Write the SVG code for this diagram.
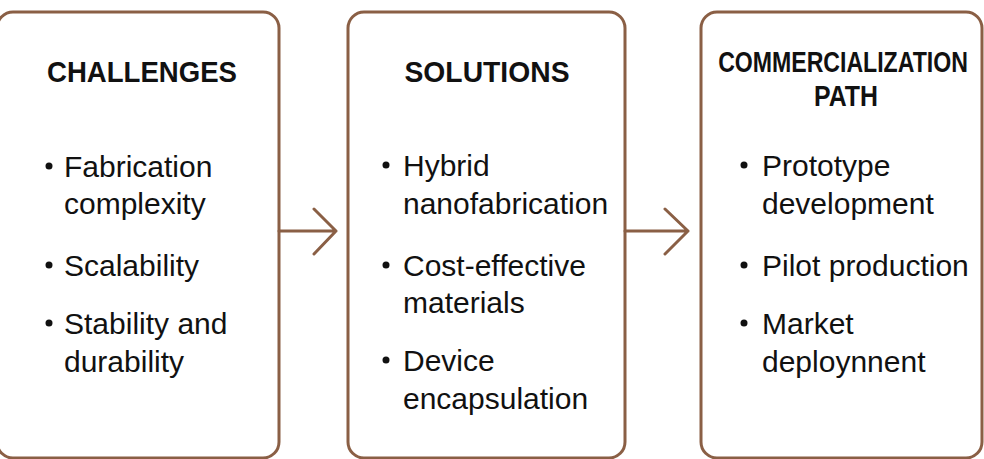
<svg xmlns="http://www.w3.org/2000/svg" width="984" height="459" viewBox="0 0 984 459">
<style>
.box{fill:#fff;stroke:#8a5f45;stroke-width:3}
.conn{fill:none;stroke:#8a5f45;stroke-width:3;stroke-linecap:round;stroke-linejoin:round}
.title{font-family:"Liberation Sans",Arial,sans-serif;font-weight:bold;font-size:30px;fill:#111;text-anchor:middle}
.item{font-family:"Liberation Sans",Arial,sans-serif;font-size:30px;fill:#111}
.bullet{fill:#111}
</style>
<rect width="984" height="459" fill="#fff"/>
<g id="challenges">
<rect class="box" x="-3" y="12" width="282" height="446" rx="16"/>
<text class="title" x="142" y="82" textLength="190" lengthAdjust="spacingAndGlyphs">CHALLENGES</text>
<circle class="bullet" cx="49" cy="166" r="3.5"/>
<text class="item" x="64" y="177">Fabrication</text>
<text class="item" x="64" y="214">complexity</text>
<circle class="bullet" cx="49" cy="265" r="3.5"/>
<text class="item" x="64" y="276">Scalability</text>
<circle class="bullet" cx="49" cy="323" r="3.5"/>
<text class="item" x="64" y="334">Stability and</text>
<text class="item" x="64" y="372">durability</text>
</g>
<g id="solutions">
<rect class="box" x="348" y="12" width="277" height="446" rx="16"/>
<text class="title" x="487" y="82" textLength="165" lengthAdjust="spacingAndGlyphs">SOLUTIONS</text>
<circle class="bullet" cx="386" cy="165" r="3.5"/>
<text class="item" x="403" y="176">Hybrid</text>
<text class="item" x="403" y="214">nanofabrication</text>
<circle class="bullet" cx="386" cy="265" r="3.5"/>
<text class="item" x="403" y="276">Cost-effective</text>
<text class="item" x="403" y="313">materials</text>
<circle class="bullet" cx="386" cy="360" r="3.5"/>
<text class="item" x="403" y="371">Device</text>
<text class="item" x="403" y="409">encapsulation</text>
</g>
<g id="commercialization">
<rect class="box" x="701" y="12" width="281" height="446" rx="16"/>
<text class="title" transform="translate(843,72) scale(0.77,1)" x="0" y="0">COMMERCIALIZATION</text>
<text class="title" x="846" y="106" textLength="64" lengthAdjust="spacingAndGlyphs">PATH</text>
<circle class="bullet" cx="744" cy="165" r="3.5"/>
<text class="item" x="762" y="176">Prototype</text>
<text class="item" x="762" y="214">development</text>
<circle class="bullet" cx="744" cy="265" r="3.5"/>
<text class="item" x="762" y="276">Pilot production</text>
<circle class="bullet" cx="744" cy="323" r="3.5"/>
<text class="item" x="762" y="334">Market</text>
<text class="item" x="762" y="372">deploynnent</text>
</g>
<g id="connectors">
<path class="conn" d="M279 231 H336 M314 209 L336 231 L314 254"/>
<path class="conn" d="M625 231 H688 M665 209 L688 231 L665 254"/>
</g>
</svg>
